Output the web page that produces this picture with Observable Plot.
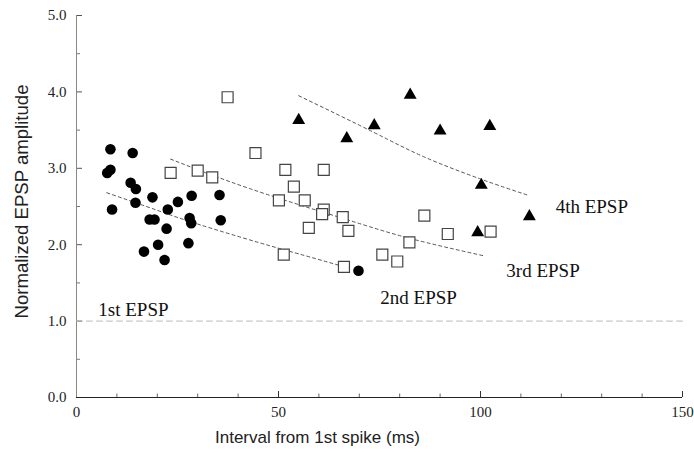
<!DOCTYPE html>
<html>
<head>
<meta charset="utf-8">
<script src="https://cdn.jsdelivr.net/npm/d3@7"></script>
<script src="https://cdn.jsdelivr.net/npm/@observablehq/plot@0.6"></script>
<style>
  html, body { margin: 0; padding: 0; background: #fff; }
  #chart { width: 694px; height: 458px; }
</style>
</head>
<body>
<div id="chart"></div>
<script>
// ---- Data ----
// 2nd EPSP (filled circles)
const epsp2X = [8.4, 13.9, 7.6, 8.4, 13.4, 14.7, 8.8, 14.6, 18.8, 22.6, 25.1, 28.5, 35.4, 18.1, 19.3, 22.3, 28.0, 28.4, 35.7, 20.2, 16.7, 21.8, 27.7, 69.8];
const epsp2Y = [3.25, 3.20, 2.94, 2.98, 2.81, 2.73, 2.46, 2.55, 2.62, 2.46, 2.56, 2.64, 2.65, 2.33, 2.33, 2.21, 2.35, 2.28, 2.32, 2.00, 1.91, 1.80, 2.02, 1.66];
// 3rd EPSP (open squares)
const epsp3X = [37.4, 23.3, 30.0, 33.6, 44.3, 51.7, 61.2, 53.8, 50.1, 56.5, 61.2, 60.8, 65.9, 57.5, 67.3, 86.1, 82.4, 91.9, 51.3, 75.7, 79.4, 66.2, 102.5];
const epsp3Y = [3.93, 2.94, 2.97, 2.88, 3.20, 2.98, 2.98, 2.76, 2.58, 2.58, 2.46, 2.40, 2.36, 2.22, 2.18, 2.38, 2.03, 2.14, 1.87, 1.87, 1.78, 1.71, 2.17];
// 4th EPSP (filled triangles)
const epsp4X = [55.0, 82.6, 73.7, 66.9, 90.0, 102.3, 100.2, 99.3, 112.1];
const epsp4Y = [3.63, 3.96, 3.56, 3.39, 3.49, 3.55, 2.78, 2.16, 2.37];
// fitted trend curves
const fit2X = [7.5, 20, 30, 45, 55, 67];
const fit2Y = [2.68, 2.45, 2.27, 2.03, 1.88, 1.70];
const fit3X = [23.3, 43.1, 66.2, 82.7, 101.2];
const fit3Y = [3.12, 2.73, 2.34, 2.08, 1.85];
const fit4X = [55.0, 73.6, 86.0, 100.0, 111.6];
const fit4Y = [3.95, 3.47, 3.15, 2.86, 2.65];
// baseline (1st EPSP normalized to 1)
const baselineY = [1.0];
const baselineX = [0, 150];
// series labels
const labelText = ["1st EPSP", "2nd EPSP", "3rd EPSP", "4th EPSP"];
const labelX = [5.4, 75.2, 106.4, 118.6];
const labelY = [1.14, 1.31, 1.66, 2.49];
// ticks
const xTicks = [0, 50, 100, 150];
const xMinorTicks = [10, 20, 30, 40, 60, 70, 80, 90, 110, 120, 130, 140];
const yTicks = [0, 1, 2, 3, 4, 5];
const yMinorTicks = [0.5, 1.5, 2.5, 3.5, 4.5];
const xTitle = "Interval from 1st spike (ms)";
const yTitle = "Normalized EPSP amplitude";

// ---- Build tables ----
const pts = (xs, ys) => xs.map((x, i) => ({x, y: ys[i]}));
const s2 = pts(epsp2X, epsp2Y);
const s3 = pts(epsp3X, epsp3Y);
const s4 = pts(epsp4X, epsp4Y);
const f2 = pts(fit2X, fit2Y);
const f3 = pts(fit3X, fit3Y);
const f4 = pts(fit4X, fit4Y);
const labels = labelText.map((t, i) => ({t, x: labelX[i], y: labelY[i]}));
const baseline = baselineX.map(x => ({x, y: baselineY[0]}));

const serif = "'Liberation Serif', 'Times New Roman', serif";
const sans = "'Liberation Sans', Arial, sans-serif";

const chart = Plot.plot({
  width: 694,
  height: 458,
  marginLeft: 76,
  marginRight: 12,
  marginTop: 15,
  marginBottom: 61,
  style: {background: "#fff", overflow: "visible"},
  x: {domain: [0, 150]},
  y: {domain: [0, 5]},
  marks: [
    // axis tick labels
    Plot.axisX(xTicks, {tickSize: 0, tickPadding: 9, fontFamily: serif, fontSize: 15, fill: "#222", label: null}),
    Plot.axisY(yTicks, {tickSize: 0, tickPadding: 10, fontFamily: serif, fontSize: 15, fill: "#222", tickFormat: d3.format(".1f"), label: null}),
    // inward ticks
    Plot.axisX(xTicks, {tickSize: -6, text: null, label: null, stroke: "#333"}),
    Plot.axisX(xMinorTicks, {tickSize: -3.5, text: null, label: null, stroke: "#666"}),
    Plot.axisY(yTicks, {tickSize: -6, text: null, label: null, stroke: "#555"}),
    Plot.axisY(yMinorTicks, {tickSize: -4, text: null, label: null, stroke: "#777"}),
    // axis lines
    Plot.ruleX([0], {stroke: "#888", strokeWidth: 1}),
    Plot.ruleY([0], {stroke: "#222", strokeWidth: 1.2}),
    // baseline at 1.0
    Plot.line(baseline, {x: "x", y: "y", stroke: "#bbb", strokeWidth: 1, strokeDasharray: "6,4"}),
    // fitted curves
    Plot.line(f2, {x: "x", y: "y", curve: "natural", stroke: "#555", strokeWidth: 1, strokeDasharray: "3,3"}),
    Plot.line(f3, {x: "x", y: "y", curve: "natural", stroke: "#555", strokeWidth: 1, strokeDasharray: "3,3"}),
    Plot.line(f4, {x: "x", y: "y", curve: "natural", stroke: "#555", strokeWidth: 1, strokeDasharray: "3,3"}),
    // data
    Plot.dot(s3, {x: "x", y: "y", symbol: "square", r: 6.2, fill: "#fff", stroke: "#444", strokeWidth: 1.2}),
    Plot.dot(s2, {x: "x", y: "y", symbol: "circle", r: 5.3, fill: "#000", stroke: "none"}),
    Plot.dot(s4, {x: "x", y: "y", symbol: "triangle", r: 4.8, fill: "#000", stroke: "none"}),
    // series labels
    Plot.text(labels, {x: "x", y: "y", text: "t", textAnchor: "start", fontFamily: serif, fontSize: 19, fill: "#111"}),
    // axis titles
    Plot.text([xTitle], {frameAnchor: "bottom", textAnchor: "middle", dx: -62, dy: 45, fontFamily: sans, fontSize: 17, fill: "#222"}),
    Plot.text([yTitle], {frameAnchor: "left", textAnchor: "middle", lineAnchor: "middle", rotate: -90, dx: -54, dy: -5, fontFamily: sans, fontSize: 18, fill: "#222"})
  ]
});
// stretch the y title to the reference's length
d3.select(chart).selectAll("text").filter(function () { return this.textContent === yTitle; })
  .attr("textLength", 234).attr("lengthAdjust", "spacingAndGlyphs");
document.getElementById("chart").appendChild(chart);
</script>
</body>
</html>
